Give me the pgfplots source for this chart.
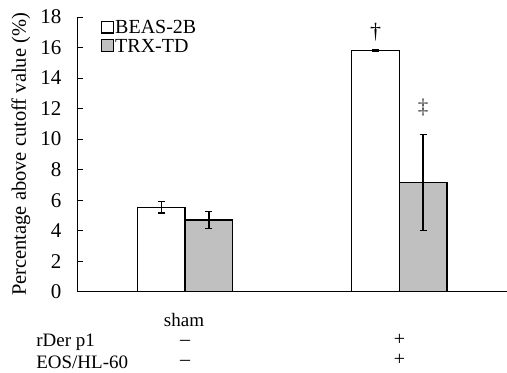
\documentclass[border=0pt]{standalone}
\usepackage{pgfplots}
\pgfplotsset{compat=1.18}
\usepackage{fontspec}
\setmainfont{Liberation Serif}

\definecolor{barwhite}{RGB}{255,255,255}
\definecolor{bargray}{RGB}{192,192,192}

\begin{document}
\begin{tikzpicture}
\begin{axis}[
  scale only axis,
  width=429pt, height=275pt,
  xmin=-0.5, xmax=1.5,
  ymin=0, ymax=18,
  ytick={0,2,...,18},
  xtick=\empty,
  axis lines*=left,
  axis line style={line width=0.9pt, black},
  y axis line style={-},
  x axis line style={-},
  tick align=inside,
  major tick length=5pt,
  tick style={line width=0.9pt, black},
  /pgf/number format/assume math mode=true,
  yticklabel style={font=\fontsize{21}{24}\selectfont, xshift=-13pt},
  ylabel={Percentage above cutoff value (\%)},
  ylabel style={font=\fontsize{20.5}{24}\selectfont, at={(axis description cs:-0.133,0.5)}, anchor=center},
  ybar,
  bar width=0.222,
  clip=false,
  legend style={draw=none, fill=none, at={(0.05,0.998)}, anchor=north west,
    font=\fontsize{20}{23}\selectfont, row sep=0pt,
    legend cell align=left, inner sep=1pt,
    nodes={inner xsep=1.5pt}},
  legend image code/.code={\draw[#1, line width=1.2pt] (0pt,-5pt) rectangle (12pt,7pt);},
]
% cell line BEAS-2B
\addplot[fill=barwhite, draw=black, line width=1.3pt, bar shift=-0.111,
  error bars/.cd, y dir=both, y explicit,
  error bar style={line width=1.4pt, black},
  error mark options={rotate=90, mark size=3.5pt, line width=1.4pt, black}]
  coordinates {(0,5.54) +- (0,0.37) (1,15.79) +- (0,0.05)};
\addlegendentry{BEAS-2B}
% cell line TRX-TD
\addplot[fill=bargray, draw=black, line width=1.3pt, bar shift=0.111,
  error bars/.cd, y dir=both, y explicit,
  error bar style={line width=1.4pt, black},
  error mark options={rotate=90, mark size=3.5pt, line width=1.4pt, black}]
  coordinates {(0,4.70) +- (0,0.55) (1,7.17) +- (0,3.15)};
\addlegendentry{TRX-TD}

% significance marks
\node[font=\fontsize{22}{25}\selectfont] at (axis cs:0.889,17.0) {†};
\node[font=\fontsize{21}{24}\selectfont, text=black!75] at (axis cs:1.111,12.1) {‡};

% treatment table under the axis
\tikzset{tbl/.style={font=\fontsize{19}{22}\selectfont, inner sep=0pt}}
\tikzset{sign/.style={font=\fontsize{20}{22}\selectfont, inner sep=0pt, text height=7pt, text depth=1pt}}
\node[tbl] at (axis cs:-0.005,-1.85) {sham};
\node[tbl, anchor=west] at (axis cs:-0.695,-3.34) {rDer p1};
\node[tbl, anchor=west] at (axis cs:-0.695,-4.62) {EOS/HL-60};
\node[sign] at (axis cs:0,-3.34) {–};
\node[sign] at (axis cs:0,-4.62) {–};
\node[sign] at (axis cs:1,-3.34) {+};
\node[sign] at (axis cs:1,-4.62) {+};
\end{axis}
\path (-78pt,-81pt) rectangle (429pt,292pt);
\end{tikzpicture}
\end{document}
